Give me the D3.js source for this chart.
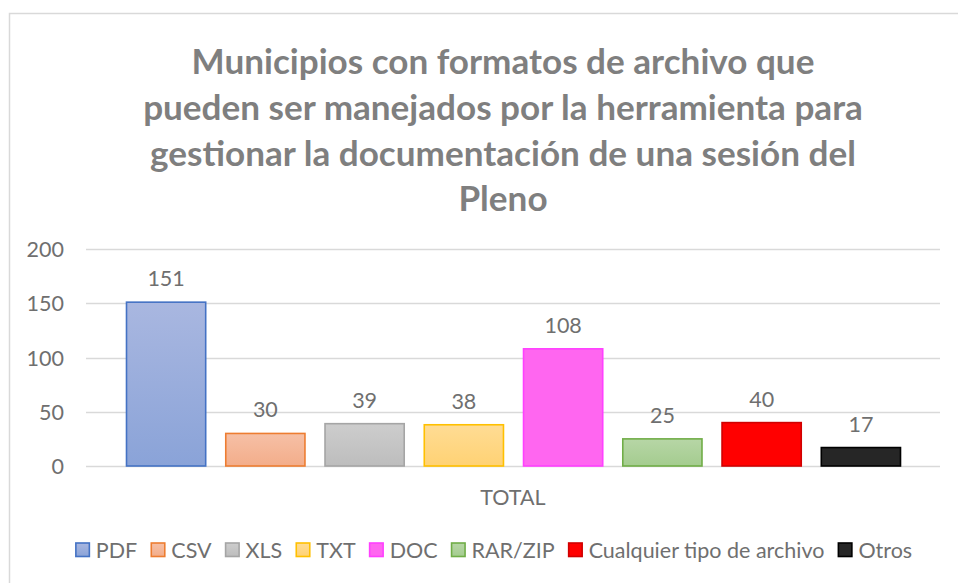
<!DOCTYPE html>
<html><head><meta charset="utf-8">
<script src="https://cdn.jsdelivr.net/npm/d3@7"></script>
<style>body{margin:0;background:#fff}svg{display:block}</style>
</head><body>
<svg id="c" width="958" height="583"></svg>
<script>
const categories = ["PDF","CSV","XLS","TXT","DOC","RAR/ZIP","Cualquier tipo de archivo","Otros"];
const values = [151,30,39,38,108,25,40,17];
const groupLabel = "TOTAL";
const yTicks = [0,50,100,150,200];
const titleLines = ["Municipios con formatos de archivo que","pueden ser manejados por la herramienta para","gestionar la documentación de una sesión del","Pleno"];
const fillTop = ["#a9b7e0","#f6c0a6","#cdcdcd","#ffdc94","#ff66f0","#b7d6a6","#ff0000","#262626"];
const fillBot = ["#8aa3d8","#f3ad8a","#bdbdbd","#ffd274","#ff66f0","#a4cc8f","#ff0000","#262626"];
const strokes = ["#4472c4","#ed7d31","#a5a5a5","#ffc000","#ff40ff","#70ad47","#d00000","#000000"];

const svg = d3.select("#c");
const font = "Lato, 'Open Sans', sans-serif";
const gray = "#7f7f7f", labelGray = "#6f6f6f";
const fs = 21.5;

svg.append("rect").attr("x",9.5).attr("y",13.5).attr("width",960).attr("height",600)
  .attr("fill","#fff").attr("stroke","#d9d9d9").attr("stroke-width",1.5);

const defs = svg.append("defs");
categories.forEach((c,i)=>{
  const g = defs.append("linearGradient").attr("id","g"+i).attr("x1",0).attr("y1",0).attr("x2",0).attr("y2",1);
  g.append("stop").attr("offset","0%").attr("stop-color",fillTop[i]);
  g.append("stop").attr("offset","100%").attr("stop-color",fillBot[i]);
});

const titleY = [60,106,152,197];
const tt = svg.append("g").selectAll("text").data(titleLines).join("text")
  .attr("x",503).attr("y",(d,i)=>titleY[i]).attr("text-anchor","middle")
  .attr("dominant-baseline","central")
  .attr("font-family",font).attr("font-weight","bold").attr("fill",gray)
  .attr("font-size",32).text(d=>d);
const w2 = tt.nodes()[1].getComputedTextLength();
tt.attr("font-size",32*720/w2);

const plotL = 86, plotR = 940;
const y = d3.scaleLinear().domain([0,200]).range([466,249]);
const x0 = d3.scaleBand().domain([groupLabel]).range([plotL,plotR]);
const x1 = d3.scaleBand().domain(categories).range([plotL+40, plotR-39]).paddingInner(0.192).paddingOuter(0);

svg.append("g").selectAll("line").data(yTicks).join("line")
  .attr("x1",plotL).attr("x2",plotR).attr("y1",d=>Math.round(y(d))+0.5).attr("y2",d=>Math.round(y(d))+0.5)
  .attr("stroke","#d9d9d9").attr("stroke-width",1.5);

const ya = svg.append("g").attr("transform","translate(64,0)")
  .call(d3.axisLeft(y).tickValues(yTicks).tickSize(0).tickPadding(0));
ya.select(".domain").remove();
ya.selectAll("text").attr("font-family",font).attr("font-size",fs).attr("fill",labelGray).attr("dy","0.35em");

svg.append("g").selectAll("rect").data(values).join("rect")
  .attr("x",(d,i)=>x1(categories[i])+0.5)
  .attr("y",d=>y(d))
  .attr("width",x1.bandwidth()-1)
  .attr("height",d=>y(0)-y(d))
  .attr("fill",(d,i)=>`url(#g${i})`)
  .attr("stroke",(d,i)=>strokes[i]).attr("stroke-width",1.6);

svg.append("g").selectAll("text").data(values).join("text")
  .attr("x",(d,i)=>x1(categories[i])+x1.bandwidth()/2)
  .attr("y",d=>y(d)-24).attr("text-anchor","middle").attr("dominant-baseline","central")
  .attr("font-family",font).attr("font-size",fs).attr("fill",labelGray).text(d=>d);

const xa = svg.append("g").attr("transform","translate(0,497)")
  .call(d3.axisBottom(x0).tickSize(0).tickPadding(0));
xa.select(".domain").remove();
xa.selectAll("text").attr("font-family",font).attr("font-size",fs).attr("fill",labelGray).attr("dy","0.35em");

const lg = svg.append("g");
const items = lg.selectAll("g").data(categories).join("g");
items.append("rect").attr("width",13.5).attr("height",13.5).attr("y",-7)
  .attr("fill",(d,i)=>`url(#g${i})`).attr("stroke",(d,i)=>strokes[i]).attr("stroke-width",1.6);
items.append("text").attr("x",20).attr("dominant-baseline","central")
  .attr("font-family",font).attr("font-size",fs).attr("fill",labelGray).text(d=>d);
const gap = 14;
let cx = 0; const pos=[];
items.each(function(d){ pos.push(cx); cx += 20 + this.querySelector("text").getComputedTextLength() + gap; });
const total = cx - gap;
const start = 494 - total/2;
items.attr("transform",(d,i)=>`translate(${start+pos[i]},550)`);
</script>
</body></html>
